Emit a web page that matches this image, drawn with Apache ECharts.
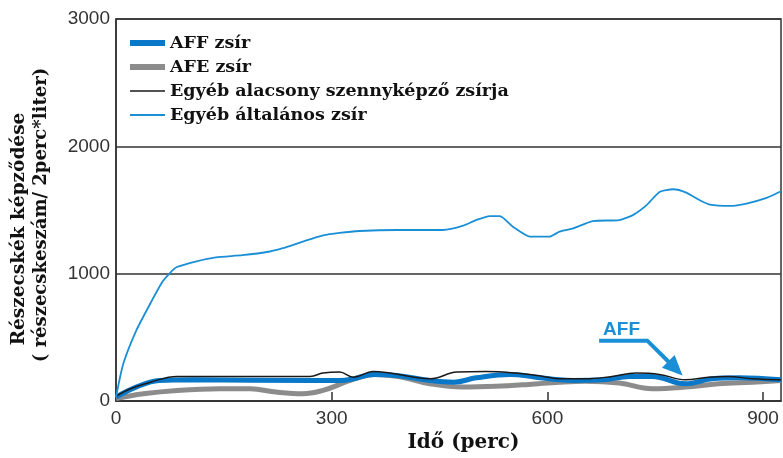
<!DOCTYPE html>
<html>
<head>
<meta charset="utf-8">
<script src="https://cdn.jsdelivr.net/npm/echarts@6/dist/echarts.min.js"></script>
<style>html,body{margin:0;padding:0;background:#fff}#c{width:783px;height:458px}</style>
</head>
<body>
<div id="c"></div>
<script>
var seriesNames = ['AFF zsír', 'AFE zsír', 'Egyéb alacsony szennyképző zsírja', 'Egyéb általános zsír'];
var xTicks = [0, 300, 600, 900];
var yTicks = [0, 1000, 2000, 3000];

var generalT = [0, 10, 28, 47, 65, 75, 84, 112, 139, 176, 214, 232, 260, 288, 311, 339, 390, 455, 483, 501, 520, 534, 552, 576, 603, 617, 636, 663, 700, 719, 738, 756, 775, 793, 812, 826, 854, 877, 905, 925];
var generalV = [30, 290, 551, 758, 940, 1005, 1050, 1097, 1128, 1145, 1174, 1200, 1252, 1300, 1320, 1335, 1343, 1343, 1377, 1421, 1452, 1452, 1369, 1291, 1291, 1330, 1356, 1413, 1421, 1460, 1538, 1642, 1663, 1637, 1577, 1543, 1533, 1551, 1595, 1647];

var lowT = [0, 20, 48, 85, 145, 270, 288, 311, 330, 358, 381, 409, 437, 474, 515, 557, 594, 617, 653, 690, 723, 756, 792, 824, 852, 885, 925];
var lowV = [37, 96, 148, 193, 193, 193, 219, 227, 187, 232, 219, 193, 174, 227, 232, 219, 193, 174, 174, 193, 219, 209, 166, 187, 193, 174, 166];

var affT = [0, 28, 60, 107, 270, 311, 330, 358, 390, 437, 470, 501, 548, 584, 617, 636, 678, 714, 746, 792, 829, 867, 925];
var affV = [30, 109, 161, 166, 161, 161, 174, 209, 200, 161, 148, 182, 209, 187, 166, 161, 166, 193, 193, 135, 174, 182, 166];

var afeT = [0, 38, 85, 145, 187, 223, 260, 288, 311, 325, 361, 398, 437, 482, 528, 574, 617, 653, 700, 746, 792, 838, 885, 925];
var afeV = [20, 57, 83, 96, 96, 70, 57, 83, 130, 161, 209, 187, 135, 109, 115, 130, 148, 156, 141, 96, 109, 135, 148, 161];

var arrowPath = [[672, 474], [739, 474], [788, 200]];
var arrowLabel = 'AFF';

function zip(t, v) { return t.map(function (x, i) { return [x, v[i]]; }); }

var chart = echarts.init(document.getElementById('c'));
var serif = '"DejaVu Serif", "Liberation Serif", serif';
var sans = '"Liberation Sans", Arial, sans-serif';
var colors = ['#0a78c8', '#8c8c8c', '#1a1a1a', '#1a8fd6'];
var widths = [5, 5, 1.5, 1.8];

chart.setOption({
  animation: false,
  backgroundColor: '#fff',
  grid: { left: 116, right: 2, top: 19, bottom: 54, show: true, borderColor: '#333', borderWidth: 1.5 },
  legend: {
    orient: 'vertical', left: 122, top: 29, itemWidth: 35, itemHeight: 14, itemGap: 6,
    data: seriesNames.map(function (n, i) {
      return { name: n, lineStyle: { width: widths[i] === 5 ? 6 : widths[i], color: colors[i] } };
    }),
    itemStyle: { opacity: 0 },
    textStyle: { fontFamily: serif, fontWeight: 'bold', fontSize: 17.5, color: '#111' }
  },
  xAxis: {
    type: 'value', min: 0, max: 925, interval: 300,
    axisLine: { show: true, lineStyle: { color: '#333', width: 1.5 } },
    axisTick: { show: true, inside: true, length: 9, lineStyle: { color: '#333', width: 1.5 } },
    axisLabel: { showMaxLabel: false, fontFamily: sans, fontSize: 19, color: '#333', margin: 8,
      formatter: function (v) { return xTicks.indexOf(v) >= 0 ? String(v) : ''; } },
    splitLine: { show: false },
    name: 'Idő (perc)', nameLocation: 'middle', nameGap: 32,
    nameTextStyle: { fontFamily: serif, fontWeight: 'bold', fontSize: 20, color: '#111', padding: [0, 0, 0, 30] }
  },
  yAxis: {
    type: 'value', min: 0, max: 3000, interval: 1000,
    axisLine: { show: true, lineStyle: { color: '#333', width: 1.5 } },
    axisTick: { show: false },
    axisLabel: { fontFamily: sans, fontSize: 19, color: '#333', margin: 6,
      formatter: function (v) { return yTicks.indexOf(v) >= 0 ? String(v) : ''; } },
    splitLine: { show: true, lineStyle: { color: '#333', width: 1.5 } }
  },
  series: [
    { name: seriesNames[1], type: 'line', data: zip(afeT, afeV), smooth: 0.4, symbol: 'none', z: 2,
      lineStyle: { color: colors[1], width: widths[1] }, itemStyle: { color: colors[1] } },
    { name: seriesNames[0], type: 'line', data: zip(affT, affV), smooth: 0.4, symbol: 'none', z: 3,
      lineStyle: { color: colors[0], width: widths[0] }, itemStyle: { color: colors[0] } },
    { name: seriesNames[2], type: 'line', data: zip(lowT, lowV), smooth: 0.4, symbol: 'none', z: 4,
      lineStyle: { color: colors[2], width: widths[2] }, itemStyle: { color: colors[2] } },
    { name: seriesNames[3], type: 'line', data: zip(generalT, generalV), smooth: 0.2, symbol: 'none', z: 5,
      lineStyle: { color: colors[3], width: widths[3] }, itemStyle: { color: colors[3] } }
  ]
});

var p = arrowPath.map(function (d) { return chart.convertToPixel({ gridIndex: 0 }, d); });
var tip = p[2], prev = p[1];
var ang = Math.atan2(tip[1] - prev[1], tip[0] - prev[0]);
var hl = 20, hw = 9;
var bx = tip[0] - hl * Math.cos(ang), by = tip[1] - hl * Math.sin(ang);
var head = [tip,
  [bx + hw * Math.sin(ang), by - hw * Math.cos(ang)],
  [bx - hw * Math.sin(ang), by + hw * Math.cos(ang)]];
var shaftEnd = [tip[0] - (hl - 4) * Math.cos(ang), tip[1] - (hl - 4) * Math.sin(ang)];

chart.setOption({
  graphic: [
    { type: 'polyline', shape: { points: [p[0], p[1], shaftEnd] }, style: { stroke: '#1a8fd6', lineWidth: 4, fill: null }, z: 10 },
    { type: 'polygon', shape: { points: head }, style: { fill: '#1a8fd6' }, z: 10 },
    { type: 'text', left: p[0][0] + 4, top: p[0][1] - 20, style: { text: arrowLabel, font: 'bold 19px ' + sans, fill: '#1a8fd6' }, z: 10 },
    { type: 'text', x: 19, y: 229, rotation: Math.PI / 2,
      style: { text: 'Részecskék képződése', font: 'bold 18.5px ' + serif, fill: '#111', align: 'center', verticalAlign: 'middle' } },
    { type: 'text', x: 41, y: 215, rotation: Math.PI / 2,
      style: { text: '( részecskeszám/ 2perc*liter)', font: 'bold 18px ' + serif, fill: '#111', align: 'center', verticalAlign: 'middle' } }
  ]
});
</script>
</body>
</html>
